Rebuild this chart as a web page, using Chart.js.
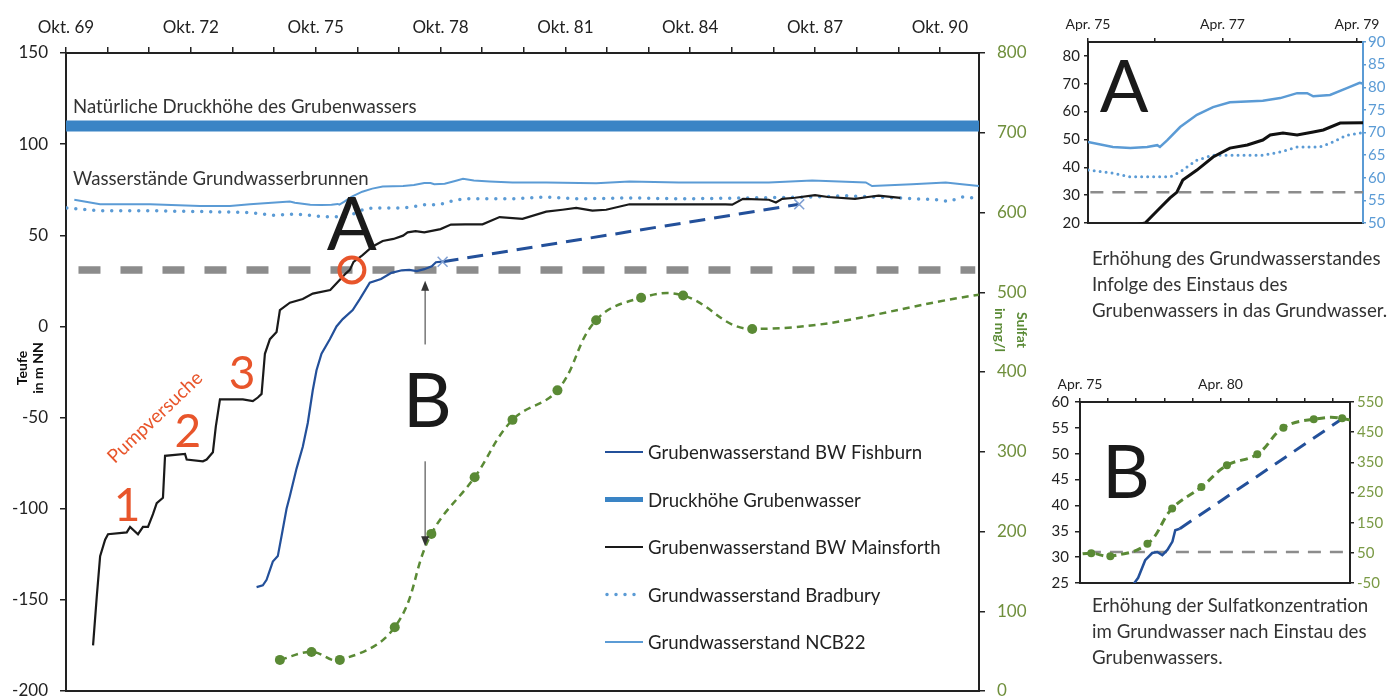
<!DOCTYPE html>
<html lang="de">
<head>
<meta charset="utf-8">
<title>Grubenwasseranstieg</title>
<script src="https://cdn.jsdelivr.net/npm/chart.js@4.4.1/dist/chart.umd.min.js"></script>
<style>
  html, body { margin: 0; padding: 0; background: #fff; }
  body { width: 1399px; height: 700px; position: relative; overflow: hidden; font-family: Lato, sans-serif; }
  canvas { position: absolute; }
  .caption { position: absolute; left: 1092px; font-size: 18.7px; line-height: 26px; color: #333; white-space: nowrap; }
</style>
</head>
<body>
<canvas id="main" width="1040" height="700" style="left:0;top:0"></canvas>
<canvas id="insetA" width="369" height="235" style="left:1030px;top:0"></canvas>
<canvas id="insetB" width="369" height="235" style="left:1030px;top:360px"></canvas>
<div class="caption" style="top:245px">Erhöhung des Grundwasserstandes<br>Infolge des Einstaus des<br>Grubenwassers in das Grundwasser.</div>
<div class="caption" style="top:592px">Erhöhung der Sulfatkonzentration<br>im Grundwasser nach Einstau des<br>Grubenwassers.</div>
<script>
// time axis = decimal years (Okt. = .75, Apr. = .25)
const mainTickLabels = ['Okt. 69', 'Okt. 72', 'Okt. 75', 'Okt. 78', 'Okt. 81', 'Okt. 84', 'Okt. 87', 'Okt. 90'];
const insetATickLabels = ['Apr. 75', 'Apr. 77', 'Apr. 79'];
const insetBTickLabels = ['Apr. 75', 'Apr. 80'];

const mainsforthYear = [1970.40, 1970.49, 1970.57, 1970.69, 1970.76, 1971.21, 1971.29, 1971.48, 1971.60, 1971.72,
  1971.84, 1971.93, 1972.08, 1972.13, 1972.61, 1972.65, 1973.04, 1973.13, 1973.28, 1973.35,
  1973.45, 1974.00, 1974.24, 1974.36, 1974.45, 1974.53, 1974.65, 1974.81, 1974.89, 1975.13,
  1975.44, 1975.68, 1976.10, 1976.32, 1976.47, 1976.57, 1976.66, 1976.87, 1977.11, 1977.36,
  1977.62, 1977.85, 1977.96, 1978.15, 1978.36, 1978.60, 1978.75, 1979.00, 1979.34, 1979.76,
  1980.17, 1980.72, 1981.29, 1981.68, 1982.01, 1982.40, 1982.73, 1983.29, 1983.69, 1984.48,
  1985.60, 1985.76, 1986.02, 1986.64, 1986.81, 1986.96, 1987.27, 1987.75, 1988.06, 1988.71,
  1989.02, 1989.28, 1989.80];
const mainsforthLevel = [-175, -148, -126, -117, -114, -113, -110, -114, -110, -110,
  -103, -97, -94, -71, -70, -73, -74, -73, -69, -55,
  -40, -40, -41, -39, -37, -15, -7, -3, 9, 13,
  15, 18, 20, 25.4, 29, 31, 35.4, 39, 43.7, 46.9,
  48, 49.8, 51.6, 52.3, 51.6, 52.7, 53.4, 55.9, 56, 56,
  60, 59, 63, 64, 65, 63.5, 64, 67, 67, 67,
  67, 66.8, 70, 69.5, 68, 70, 70.6, 72, 71, 70,
  71, 71.7, 70.5];

const fishburnYear = [1974.33, 1974.48, 1974.57, 1974.72, 1974.84, 1974.93, 1975.05, 1975.13, 1975.29, 1975.44,
  1975.56, 1975.68, 1975.77, 1975.89, 1976.09, 1976.25, 1976.40, 1976.64, 1976.81, 1977.05,
  1977.32, 1977.57, 1977.82, 1978.00, 1978.18, 1978.36, 1978.54, 1978.64, 1978.80];
const fishburnLevel = [-143, -142, -139, -129, -126, -115, -100, -93, -78, -66,
  -53, -35, -24, -15, -7, 0, 4, 9, 15, 24,
  26, 29.4, 30.8, 31, 30.4, 31.4, 33, 35.2, 35.5];
const fishburnTrendYear = [1978.80, 1987.37];
const fishburnTrendLevel = [35.5, 67];

const ncb22Year = [1969.95, 1970.57, 1971.77, 1972.97, 1973.69, 1974.17, 1975.13, 1975.25, 1975.62, 1975.88,
  1976.13, 1976.28, 1976.32, 1976.43, 1976.62, 1976.87, 1977.11, 1977.36, 1977.85, 1978.11,
  1978.36, 1978.51, 1978.60, 1978.85, 1979.10, 1979.29, 1979.55, 1979.93, 1980.48, 1981.29,
  1982.49, 1983.29, 1984.48, 1985.68, 1986.64, 1987.68, 1988.33, 1988.97, 1989.12, 1990.08,
  1990.89, 1991.28, 1991.69];
const ncb22Level = [69.5, 67, 67, 66, 66, 67, 68.5, 67.9, 66.8, 66.6,
  66.8, 67.2, 66.8, 68.3, 71.2, 73.9, 75.6, 76.7, 77, 77.6,
  78.7, 78.7, 78, 78.3, 79.8, 81, 80, 79.5, 79, 79,
  78.5, 79.5, 79, 79, 79, 80, 79.5, 79, 77, 78,
  79, 78, 77];

const bradburyYear = [1969.77, 1970.57, 1971.77, 1972.97, 1974.17, 1974.72, 1975.25, 1975.62, 1975.88, 1976.13,
  1976.47, 1976.62, 1976.87, 1977.11, 1977.36, 1977.85, 1978.11, 1978.36, 1978.70, 1978.85,
  1979.10, 1979.34, 1980.17, 1980.48, 1981.29, 1982.08, 1983.29, 1984.48, 1986.09, 1987.68,
  1988.49, 1989.69, 1990.72, 1990.96, 1991.27, 1991.60];
const bradburyLevel = [65, 63.5, 63.5, 63, 62.5, 61, 61.7, 61, 60.2, 60.2,
  60.2, 61.3, 63.9, 65, 65, 65, 65.7, 66.8, 66.8, 67.6,
  69.4, 70, 70, 70, 71, 70, 70.5, 70, 70.5, 71,
  71.7, 70.5, 69.5, 68.5, 71, 70.5];

const druckYear = [1969.75, 1991.69];
const druckLevel = [110, 110];
const refYear = [1970.05, 1991.60];
const refLevel = [31, 31];

const sulfatYear = [1974.89, 1975.65, 1976.33, 1977.65, 1978.53, 1979.57, 1980.48, 1981.56, 1982.49, 1983.57,
  1984.58, 1986.24, 1991.69];
const sulfatValue = [39, 49, 39, 80, 197, 268, 340, 377, 465, 493,
  496, 454, 497];

const FONT = 'Lato, sans-serif';
Chart.defaults.font.family = FONT;
Chart.defaults.color = '#222';

const C_FISH = '#23509a';
const C_DRUCK = '#3a84c5';
const C_LIGHT = '#5b9bd5';
const C_GREEN = '#5a8a35';
const C_GRAY = '#8c8c8c';
const C_ORANGE = '#e8552b';

function pairs(xs, ys) {
  return xs.map((x, i) => ({ x: x, y: ys[i] }));
}

function stepTicks(start, end, step) {
  const ticks = [];
  for (let v = start; v <= end + 1e-6; v += step) {
    ticks.push({ value: Math.round(v * 100) / 100 });
  }
  return ticks;
}

// pin every axis box to a fixed size, so the plot area lands where the picture has it
function fixedSize(size) {
  return (scale) => {
    if (scale.isHorizontal()) {
      scale.height = size;
    } else {
      scale.width = size;
    }
    scale.paddingTop = 0;
    scale.paddingBottom = 0;
    scale.paddingLeft = 0;
    scale.paddingRight = 0;
  };
}

function timeAxis(min, max, labels, every, height, fontSize) {
  return {
    type: 'linear',
    position: 'top',
    min: min,
    max: max,
    afterBuildTicks: (axis) => { axis.ticks = stepTicks(min, max, 1); },
    afterFit: fixedSize(height),
    ticks: {
      autoSkip: false,
      maxRotation: 0,
      padding: fontSize > 15 ? 9 : 5,
      font: { size: fontSize },
      color: '#222',
      callback: (v, i) => (i % every === 0 ? labels[i / every] : ''),
    },
    grid: { drawOnChartArea: false, tickLength: fontSize > 15 ? 6 : 4, color: '#222', lineWidth: 1.5 },
    border: { color: '#222', width: 2 },
  };
}

function valueAxis(position, min, max, step, width, opts) {
  return {
    type: 'linear',
    position: position,
    min: min,
    max: max,
    afterFit: fixedSize(width),
    afterBuildTicks: (axis) => { axis.ticks = stepTicks(min, max, step); },
    ticks: { autoSkip: false, padding: opts.padding, font: { size: opts.size }, color: opts.color },
    grid: { drawOnChartArea: false, tickLength: opts.tick, color: opts.line, lineWidth: 1.5 },
    border: { color: opts.line, width: 2 },
  };
}

function frameAxis(height) {
  return {
    type: 'linear',
    position: 'bottom',
    afterFit: fixedSize(height),
    ticks: { display: false },
    grid: { display: false },
    border: { color: '#222', width: 2 },
  };
}

function drawText(ctx, text, x, y, font, color, align) {
  ctx.font = font;
  ctx.fillStyle = color;
  ctx.textAlign = align || 'left';
  ctx.textBaseline = 'alphabetic';
  ctx.fillText(text, x, y);
}

function drawArrow(ctx, x, y0, y1) {
  const dir = y1 < y0 ? -1 : 1;
  ctx.strokeStyle = '#333';
  ctx.fillStyle = '#333';
  ctx.lineWidth = 1;
  ctx.setLineDash([]);
  ctx.beginPath();
  ctx.moveTo(x, y0);
  ctx.lineTo(x, y1 - dir * 9);
  ctx.stroke();
  ctx.beginPath();
  ctx.moveTo(x, y1);
  ctx.lineTo(x - 4, y1 - dir * 10);
  ctx.lineTo(x + 4, y1 - dir * 10);
  ctx.closePath();
  ctx.fill();
}

// labels, letters and arrows of the main chart
const mainNotes = {
  id: 'mainNotes',
  afterDatasetsDraw(chart) {
    const { ctx } = chart;
    const x = chart.scales.x;
    const y = chart.scales.y;
    const px = (v) => x.getPixelForValue(v);
    const py = (v) => y.getPixelForValue(v);
    ctx.save();

    drawText(ctx, 'Natürliche Druckhöhe des Grubenwassers', px(1969.92), py(117.1), '18.6px ' + FONT, '#333');
    drawText(ctx, 'Wasserstände Grundwasserbrunnen', px(1969.92), py(77.7), '18.6px ' + FONT, '#333');

    drawText(ctx, 'A', px(1976.62), py(42.1), '74px ' + FONT, '#1a1a1a', 'center');
    drawText(ctx, 'B', px(1978.43), py(-55.4), '76px ' + FONT, '#1a1a1a', 'center');

    ctx.strokeStyle = C_ORANGE;
    ctx.lineWidth = 4;
    ctx.beginPath();
    ctx.arc(px(1976.62), py(31), 12.5, 0, Math.PI * 2);
    ctx.stroke();

    drawArrow(ctx, px(1978.38), py(-9.9), py(25.1));
    drawArrow(ctx, px(1978.38), py(-74), py(-120.6));

    drawText(ctx, '1', px(1971.22), py(-106.9), '46px ' + FONT, C_ORANGE, 'center');
    drawText(ctx, '2', px(1972.68), py(-66.4), '46px ' + FONT, C_ORANGE, 'center');
    drawText(ctx, '3', px(1973.98), py(-34.6), '46px ' + FONT, C_ORANGE, 'center');

    ctx.save();
    ctx.translate(px(1971.89), py(-49.9));
    ctx.rotate(-43.6 * Math.PI / 180);
    ctx.font = '19px ' + FONT;
    ctx.fillStyle = C_ORANGE;
    ctx.textAlign = 'center';
    ctx.textBaseline = 'middle';
    ctx.fillText('Pumpversuche', 0, 0);
    ctx.restore();

    // axis titles
    ctx.save();
    ctx.translate(30, 368);
    ctx.rotate(-Math.PI / 2);
    ctx.font = 'bold 14px ' + FONT;
    ctx.fillStyle = '#111';
    ctx.textAlign = 'center';
    ctx.textBaseline = 'middle';
    ctx.fillText('Teufe', 0, -8);
    ctx.fillText('in m NN', 0, 8);
    ctx.restore();

    ctx.save();
    ctx.translate(1011, 330);
    ctx.rotate(Math.PI / 2);
    ctx.font = 'bold 14px ' + FONT;
    ctx.fillStyle = C_GREEN;
    ctx.textAlign = 'center';
    ctx.textBaseline = 'middle';
    ctx.fillText('Sulfat', 0, -11);
    ctx.fillText('in mg/l', 0, 11);
    ctx.restore();

    ctx.restore();
  },
};

// legend block inside the plot area
const legendRows = ['Grubenwasserstand BW Fishburn', 'Druckhöhe Grubenwasser', 'Grubenwasserstand BW Mainsforth',
  'Grundwasserstand Bradbury', 'Grundwasserstand NCB22'];

const mainLegend = {
  id: 'mainLegend',
  afterDraw(chart) {
    const { ctx, chartArea } = chart;
    const left = chartArea.left + 539;
    ctx.save();
    legendRows.forEach((name, i) => {
      const ds = chart.data.datasets.find((d) => d.label === name);
      const yy = 452 + i * 47.5;
      ctx.strokeStyle = ds.borderColor;
      ctx.lineWidth = Math.min(ds.borderWidth, 5);
      ctx.lineCap = ds.borderCapStyle || 'butt';
      ctx.setLineDash(ds.borderDash || []);
      ctx.beginPath();
      ctx.moveTo(left + (ds.borderCapStyle === 'round' ? 2 : 0), yy);
      ctx.lineTo(left + 38, yy);
      ctx.stroke();
      ctx.setLineDash([]);
      ctx.font = '18.6px ' + FONT;
      ctx.fillStyle = '#222';
      ctx.textAlign = 'left';
      ctx.textBaseline = 'middle';
      ctx.fillText(name, left + 43, yy + 1);
    });
    ctx.restore();
  },
};

function bigLetter(letter, dx, baseline, size) {
  return {
    id: 'letter' + letter,
    afterDatasetsDraw(chart) {
      const { ctx, chartArea } = chart;
      ctx.save();
      drawText(ctx, letter, chartArea.left + dx, baseline, size + 'px ' + FONT, '#1a1a1a', 'center');
      ctx.restore();
    },
  };
}

const common = {
  responsive: false,
  animation: false,
  events: [],
  layout: { padding: 0, autoPadding: false },
  plugins: { legend: { display: false }, tooltip: { enabled: false } },
};

new Chart(document.getElementById('main'), {
  type: 'line',
  data: {
    datasets: [
      {
        label: 'Druckhöhe Grubenwasser',
        data: pairs(druckYear, druckLevel),
        borderColor: C_DRUCK,
        borderWidth: 11,
        pointRadius: 0,
        xAxisID: 'x',
        yAxisID: 'y',
        order: 9,
      },
      {
        label: 'Bezugsniveau',
        data: pairs(refYear, refLevel),
        borderColor: C_GRAY,
        borderWidth: 7.5,
        borderDash: [22, 20],
        pointRadius: 0,
        xAxisID: 'x',
        yAxisID: 'y',
        order: 8,
      },
      {
        label: 'Grundwasserstand NCB22',
        data: pairs(ncb22Year, ncb22Level),
        borderColor: C_LIGHT,
        borderWidth: 2,
        pointRadius: 0,
        xAxisID: 'x',
        yAxisID: 'y',
        order: 7,
      },
      {
        label: 'Grundwasserstand Bradbury',
        data: pairs(bradburyYear, bradburyLevel),
        borderColor: C_LIGHT,
        borderWidth: 3.5,
        borderDash: [0, 9],
        borderCapStyle: 'round',
        pointRadius: 0,
        xAxisID: 'x',
        yAxisID: 'y',
        order: 6,
      },
      {
        label: 'Grubenwasserstand BW Mainsforth',
        data: pairs(mainsforthYear, mainsforthLevel),
        borderColor: '#1a1a1a',
        borderWidth: 2.2,
        pointRadius: 0,
        xAxisID: 'x',
        yAxisID: 'y',
        order: 5,
      },
      {
        label: 'Grubenwasserstand BW Fishburn',
        data: pairs(fishburnYear, fishburnLevel),
        borderColor: C_FISH,
        borderWidth: 2.2,
        pointRadius: 0,
        xAxisID: 'x',
        yAxisID: 'y',
        order: 4,
      },
      {
        label: 'Fishburn Trend',
        data: pairs(fishburnTrendYear, fishburnTrendLevel),
        borderColor: C_FISH,
        borderWidth: 3,
        borderDash: [16, 9],
        pointStyle: 'crossRot',
        pointRadius: 7,
        pointBorderColor: '#7f9fd2',
        pointBorderWidth: 1.5,
        xAxisID: 'x',
        yAxisID: 'y',
        order: 3,
      },
      {
        label: 'Sulfat',
        data: pairs(sulfatYear, sulfatValue),
        borderColor: C_GREEN,
        backgroundColor: C_GREEN,
        borderWidth: 2.5,
        borderDash: [7, 5],
        tension: 0.4,
        pointRadius: (c) => (c.dataIndex === sulfatYear.length - 1 ? 0 : 5),
        pointBorderWidth: 0,
        pointBackgroundColor: C_GREEN,
        xAxisID: 'x',
        yAxisID: 'y2',
        order: 2,
      },
    ],
  },
  options: {
    ...common,
    scales: {
      x: timeAxis(1969.75, 1991.69, mainTickLabels, 3, 53, 17),
      xb: frameAxis(9),
      y: valueAxis('left', -200, 150, 50, 66, { size: 17, color: '#222', line: '#222', tick: 6, padding: 12 }),
      y2: valueAxis('right', 0, 800, 100, 61, { size: 17, color: '#6f8f3c', line: '#222', tick: 6, padding: 12 }),
    },
  },
  plugins: [mainNotes, mainLegend],
});

new Chart(document.getElementById('insetA'), {
  type: 'line',
  data: {
    datasets: [
      {
        label: 'Bezugsniveau',
        data: pairs(refYear, refLevel),
        borderColor: C_GRAY,
        borderWidth: 2.5,
        borderDash: [13, 9],
        pointRadius: 0,
        xAxisID: 'x',
        yAxisID: 'y',
        order: 4,
      },
      {
        label: 'Grundwasserstand NCB22',
        data: pairs(ncb22Year, ncb22Level),
        borderColor: C_LIGHT,
        borderWidth: 2.5,
        pointRadius: 0,
        xAxisID: 'x',
        yAxisID: 'y2',
        order: 3,
      },
      {
        label: 'Grundwasserstand Bradbury',
        data: pairs(bradburyYear, bradburyLevel),
        borderColor: C_LIGHT,
        borderWidth: 3,
        borderDash: [0, 6],
        borderCapStyle: 'round',
        pointRadius: 0,
        xAxisID: 'x',
        yAxisID: 'y2',
        order: 2,
      },
      {
        label: 'Grubenwasserstand BW Mainsforth',
        data: pairs(mainsforthYear, mainsforthLevel),
        borderColor: '#111',
        borderWidth: 3,
        pointRadius: 0,
        xAxisID: 'x',
        yAxisID: 'y',
        order: 1,
      },
    ],
  },
  options: {
    ...common,
    scales: {
      x: timeAxis(1975.25, 1979.34, insetATickLabels, 2, 42, 14),
      xb: frameAxis(12),
      y: valueAxis('left', 20, 85, 10, 58, { size: 15, color: '#222', line: '#222', tick: 4, padding: 4 }),
      y2: valueAxis('right', 50, 90, 5, 36, { size: 15, color: C_LIGHT, line: C_LIGHT, tick: 3, padding: 2 }),
    },
  },
  plugins: [bigLetter('A', 36, 112, 72)],
});

new Chart(document.getElementById('insetB'), {
  type: 'line',
  data: {
    datasets: [
      {
        label: 'Bezugsniveau',
        data: pairs(refYear, refLevel),
        borderColor: C_GRAY,
        borderWidth: 2.5,
        borderDash: [13, 9],
        pointRadius: 0,
        xAxisID: 'x',
        yAxisID: 'y',
        order: 4,
      },
      {
        label: 'Grubenwasserstand BW Fishburn',
        data: pairs(fishburnYear, fishburnLevel),
        borderColor: C_FISH,
        borderWidth: 2.5,
        pointRadius: 0,
        xAxisID: 'x',
        yAxisID: 'y',
        order: 3,
      },
      {
        label: 'Fishburn Trend',
        data: pairs(fishburnTrendYear, fishburnTrendLevel),
        borderColor: C_FISH,
        borderWidth: 3,
        borderDash: [14, 9],
        pointRadius: 0,
        xAxisID: 'x',
        yAxisID: 'y',
        order: 2,
      },
      {
        label: 'Sulfat',
        data: pairs(sulfatYear, sulfatValue),
        borderColor: C_GREEN,
        borderWidth: 3,
        borderDash: [8, 5],
        tension: 0.4,
        pointRadius: (c) => (c.dataIndex === sulfatYear.length - 1 ? 0 : 4),
        pointBorderWidth: 0,
        pointBackgroundColor: C_GREEN,
        xAxisID: 'x',
        yAxisID: 'y2',
        order: 1,
      },
    ],
  },
  options: {
    ...common,
    scales: {
      x: timeAxis(1975.25, 1984.86, insetBTickLabels, 5, 42, 14),
      xb: frameAxis(12),
      y: valueAxis('left', 25, 60, 5, 50, { size: 15, color: '#222', line: '#222', tick: 5, padding: 6 }),
      y2: valueAxis('right', -50, 550, 100, 49, { size: 15, color: '#7a9a45', line: '#222', tick: 4, padding: 3 }),
    },
  },
  plugins: [bigLetter('B', 46, 138, 74)],
});
</script>
</body>
</html>
